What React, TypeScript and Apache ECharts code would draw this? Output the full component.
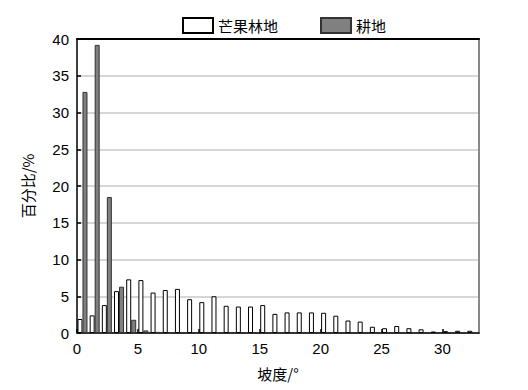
import React, { useEffect, useRef } from "react";
import * as echarts from "echarts";

const slopeBins: number[] = Array.from({ length: 33 }, (_, i) => i);
const mangoValues: number[] = [
  1.9, 2.4, 3.8, 5.7, 7.3, 7.2, 5.5, 5.85, 6.0, 4.6, 4.2, 5.0,
  3.7, 3.6, 3.6, 3.8, 2.6, 2.8, 2.8, 2.8, 2.75, 2.35, 1.7, 1.55,
  0.85, 0.65, 0.95, 0.65, 0.5, 0.2, 0.25, 0.3, 0.3,
];
const farmValues: number[] = [
  32.8, 39.2, 18.5, 6.3, 1.8, 0.35, 0.15, 0.05, 0, 0, 0, 0,
  0, 0, 0, 0, 0, 0, 0, 0, 0, 0, 0, 0,
  0, 0, 0, 0, 0, 0, 0, 0, 0,
];
const seriesNames = ["芒果林地", "耕地"];
const xTicks = { min: 0, max: 33, interval: 5 };
const yTicks = { min: 0, max: 40, interval: 5 };

const NUM_FONT = "Liberation Sans, Arial, sans-serif";
const CJK_FONT = "Noto Sans CJK SC, sans-serif";

export default function App() {
  const ref = useRef<HTMLDivElement>(null);
  useEffect(() => {
    if (!ref.current) return;
    const chart = echarts.init(ref.current, undefined, { renderer: "svg" });
    const center = (k: number) => k + 0.45;
    chart.setOption({
      animation: false,
      backgroundColor: "#ffffff",
      legend: {
        top: 12,
        left: 177,
        icon: "rect",
        itemWidth: 30,
        itemHeight: 15,
        itemGap: 42,
        textStyle: { fontFamily: CJK_FONT, fontSize: 15, color: "#000" },
        data: seriesNames,
      },
      grid: {
        left: 77,
        right: 49,
        top: 39,
        bottom: 57,
        show: false,
      },
      xAxis: [
        {
          type: "value",
          min: xTicks.min,
          max: xTicks.max,
          interval: xTicks.interval,
          name: "坡度/°",
          nameLocation: "middle",
          nameGap: 33,
          nameTextStyle: { fontFamily: CJK_FONT, fontSize: 15, color: "#000" },
          axisLine: { show: true, onZero: false, lineStyle: { color: "#000", width: 1.5 } },
          axisTick: { show: true, inside: true, length: 4, lineStyle: { color: "#000", width: 1.5 } },
          axisLabel: {
            fontFamily: NUM_FONT,
            fontSize: 15,
            color: "#000",
            margin: 8,
            showMaxLabel: false,
          },
          splitLine: { show: false },
        },
        {
          type: "value",
          position: "top",
          min: xTicks.min,
          max: xTicks.max,
          interval: xTicks.interval,
          axisLine: { show: true, onZero: false, lineStyle: { color: "#000", width: 2 } },
          axisTick: { show: false },
          axisLabel: { show: false },
          splitLine: { show: false },
        },
      ],
      yAxis: [
        {
          type: "value",
          min: yTicks.min,
          max: yTicks.max,
          interval: yTicks.interval,
          name: "百分比/%",
          nameLocation: "middle",
          nameGap: 42,
          nameTextStyle: { fontFamily: CJK_FONT, fontSize: 15, color: "#000" },
          axisLine: { show: true, onZero: false, lineStyle: { color: "#000", width: 1.5 } },
          axisTick: { show: true, inside: true, length: 4, lineStyle: { color: "#000", width: 1.5 } },
          axisLabel: { fontFamily: NUM_FONT, fontSize: 15, color: "#000", margin: 8 },
          splitLine: {
            show: true,
            lineStyle: { color: "#c8c8c8", width: 1.5 },
          },
        },
        {
          type: "value",
          position: "right",
          min: yTicks.min,
          max: yTicks.max,
          interval: yTicks.interval,
          axisLine: { show: true, onZero: false, lineStyle: { color: "#888", width: 2 } },
          axisTick: { show: false },
          axisLabel: { show: false },
          splitLine: { show: false },
        },
      ],
      series: [
        {
          name: seriesNames[0],
          type: "bar",
          xAxisIndex: 0,
          yAxisIndex: 0,
          barWidth: 5,
          barGap: "0%",
          itemStyle: { color: "#ffffff", borderColor: "#000", borderWidth: 1 },
          data: slopeBins.map((k, i) => [center(k), mangoValues[i]]),
        },
        {
          name: seriesNames[1],
          type: "bar",
          xAxisIndex: 0,
          yAxisIndex: 0,
          barWidth: 5,
          barGap: "0%",
          itemStyle: { color: "#808080", borderColor: "#333", borderWidth: 1 },
          data: slopeBins.map((k, i) => [center(k), farmValues[i]]),
        },
        {
          name: "frame",
          type: "line",
          xAxisIndex: 1,
          yAxisIndex: 1,
          silent: true,
          showSymbol: false,
          lineStyle: { opacity: 0 },
          data: [],
        },
      ],
    });
    return () => chart.dispose();
  }, []);
  return (
    <div
      ref={ref}
      style={{ position: "fixed", left: 0, top: 0, width: 528, height: 390 }}
    />
  );
}
